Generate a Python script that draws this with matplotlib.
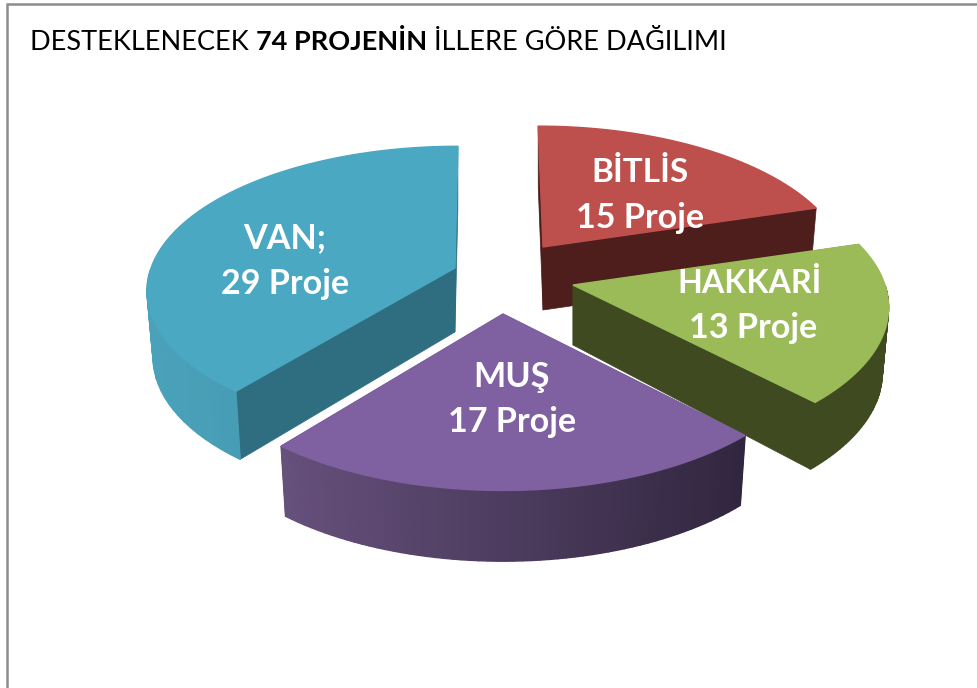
import numpy as np
import matplotlib
matplotlib.use('Agg')
import matplotlib.pyplot as plt
from matplotlib.colors import to_rgb

# Veriler
iller = ['BİTLİS', 'HAKKARİ', 'VAN;', 'MUŞ']
projeler = [15, 13, 29, 17]
dilim_sirasi = ['BİTLİS', 'HAKKARİ', 'MUŞ', 'VAN;']
baslik = ['DESTEKLENECEK ', '74 PROJENİN ', 'İLLERE GÖRE DAĞILIMI']

# Her dilimin ekrandaki yeri ve renkleri
stil = {
    'BİTLİS': dict(apex=(543, 247), R=300, Ry=139, lean=0.04, depth=64, depth0=63, top='#bd504d',
                   side='#4d1e1c', arc=('#4d1e1c', '#4d1e1c'), text=(640, 182), dx2=0, fs=24.0),
    'HAKKARİ': dict(apex=(573, 285), R=312, Ry=145, lean=0.0, depth=65, depth0=60, top='#9bbb59',
                    side='#3f4a21', arc=('#3f4a21', '#3f4a21'), text=(749, 293), dx2=4, fs=23.2),
    'VAN;': dict(apex=(455, 268), R=304, Ry=140, lean=-0.024, depth=66, depth0=64, top='#4aa8c2',
                 side='#2f6e80', arc=('#4aa2ba', '#3e8fa6'), text=(285, 248), dx2=0, fs=24.6),
    'MUŞ': dict(apex=(503, 314), R=312, Ry=150, lean=0.0, depth=68, depth0=64, top='#7f60a0',
                side='#31263f', arc=('#66507c', '#31263f'), text=(511, 387), dx2=1, fs=24.6),
}
persp = 0.15

plt.rcParams['font.family'] = ['Lato', 'DejaVu Sans']

fig = plt.figure(figsize=(9.77, 6.88), dpi=100)
ax = fig.add_axes([0, 0, 1, 1])
ax.set_xlim(0, 977)
ax.set_ylim(688, 0)
ax.axis('off')

# Çerçeve
ax.plot([7, 7, 977], [688, 4, 4], color='#8c8c8c', lw=1.8, solid_joinstyle='miter')


def ust_nokta(s, t):
    # t derece, saat yönünde, 0 = tepe
    r = np.radians(t)
    f = -np.cos(r)
    k = 1 / (1 - persp * f)
    dy = s['Ry'] * f * k
    return s['apex'][0] + s['R'] * np.sin(r) * k + s['lean'] * dy, s['apex'][1] + dy


def alt_nokta(s, t):
    x, y = ust_nokta(s, t)
    f = -np.cos(np.radians(t))
    return s['apex'][0] + (x - s['apex'][0]) * 0.98, y + s['depth'] * (1 + 0.04 * f)


def dilim_ciz(ad, t0, t1):
    s = stil[ad]
    ts = np.linspace(t0, t1, 60)
    ax0, ay0 = s['apex']

    # kenar duvarları
    for t in (t0, t1):
        x1, y1 = ust_nokta(s, t)
        x2, y2 = alt_nokta(s, t)
        ax.fill([ax0, x1, x2, ax0], [ay0, y1, y2, ay0 + s['depth0']],
                color=s['side'], lw=0.5, zorder=1)

    # yay duvarı, soldan sağa renk geçişi
    c0, c1 = np.array(to_rgb(s['arc'][0])), np.array(to_rgb(s['arc'][1]))
    xs = [ust_nokta(s, t)[0] for t in ts]
    xmin, xmax = min(xs), max(xs)
    for a, b in zip(ts[:-1], ts[1:]):
        if np.cos(np.radians((a + b) / 2)) > 0.0:
            continue
        xa, ya = ust_nokta(s, a)
        xb, yb = ust_nokta(s, b)
        xc, yc = alt_nokta(s, b)
        xd, yd = alt_nokta(s, a)
        w = ((xa + xb) / 2 - xmin) / max(xmax - xmin, 1)
        ax.fill([xa, xb, xc, xd], [ya, yb, yc, yd], color=c0 + (c1 - c0) * w, lw=1.0, zorder=1)

    # üst yüz
    pts = [ust_nokta(s, t) for t in ts]
    ax.fill([ax0] + [p[0] for p in pts], [ay0] + [p[1] for p in pts], color=s['top'], lw=1.0, zorder=1)


# açılar proje sayılarından
sayi = dict(zip(iller, projeler))
toplam = sum(projeler)
bas = {}
t = 0
for ad in dilim_sirasi:
    bas[ad] = (t, t + 360 * sayi[ad] / toplam)
    t += 360 * sayi[ad] / toplam

# arkadan öne
for ad in ['BİTLİS', 'HAKKARİ', 'VAN;', 'MUŞ']:
    dilim_ciz(ad, *bas[ad])

# Etiketler
for ad in iller:
    x, y = stil[ad]['text']
    ax.text(x, y, ad, color='white', fontsize=stil[ad]['fs'], fontweight='bold', ha='center', va='baseline', zorder=5)
    ax.text(x + stil[ad]['dx2'], y + 45.5, f'{sayi[ad]} Proje', color='white', fontsize=24.6,
            fontweight='bold', ha='center', va='baseline', zorder=5)

# Başlık, üç parça
fig.canvas.draw()
rend = fig.canvas.get_renderer()
x = 30
for parca, agirlik in zip(baslik, ['normal', 'bold', 'normal']):
    ax.text(x, 50.5, parca, color='black', fontsize=19.55, fontweight=agirlik, va='baseline', ha='left')
    # sondaki boşluğu da ölçmek için
    w0 = ax.text(0, 0, parca.strip() + ' .', fontsize=19.55, fontweight=agirlik).get_window_extent(rend).width
    w1 = ax.text(0, 0, '.', fontsize=19.55, fontweight=agirlik).get_window_extent(rend).width
    ax.texts[-1].remove()
    ax.texts[-1].remove()
    x += w0 - w1 if parca.endswith(' ') else 0

fig.savefig('out.png', dpi=100)
